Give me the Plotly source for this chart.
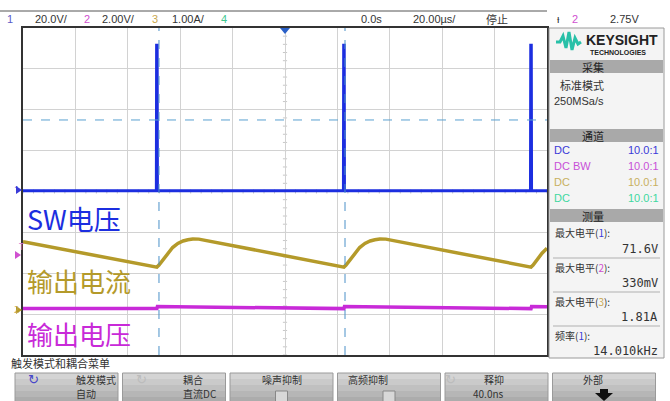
import plotly.graph_objects as go

# ---------------- data ----------------
# time in microseconds, 20 us/div, 10 divisions
TIME_SW = [-100, -49.1, -49.0, -48.8, -48.7, 22.3, 22.4, 22.6, 22.7, 93.7, 93.8, 94.0, 94.1, 100]
SW_VOLT = [0.4, 0.4, 71.6, 71.6, 0.4, 0.4, 71.6, 71.6, 0.4, 0.4, 71.6, 71.6, 0.4, 0.4]   # ch1, 20 V/div

TIME_IOUT = [-100, -48.9, -48.1, -46.4, -44.7, -42.9, -40.9, -38.9, -37.1, -35.2, -32.9,
             22.5, 23.3, 25.0, 26.7, 28.5, 30.5, 32.5, 34.3, 36.2, 38.5,
             93.9, 94.7, 96.4, 98.1, 100]
IOUT_AMP = [1.70, 1.08, 1.13, 1.28, 1.42, 1.56, 1.66, 1.72, 1.75, 1.77, 1.765,
            1.08, 1.13, 1.28, 1.42, 1.56, 1.66, 1.72, 1.75, 1.77, 1.765,
            1.08, 1.13, 1.28, 1.42, 1.54]                    # ch3, 1.00 A/div

TIME_VOUT = [-100, -48.9, -48.7, 22.5, 22.7, 93.9, 94.1, 100]
VOUT_VOLT = [0.08, 0.07, 0.17, 0.07, 0.17, 0.07, 0.17, 0.16]   # ch2, 2.00 V/div

CURSOR_TIMES = [-48.1, 22.9]
CURSOR_LEVEL_DIV = 1.75

SCALES = {"sw": 20.0, "vout": 2.0, "iout": 1.0}
OFFSETS = {"sw": 0.0, "vout": -2.9, "iout": -2.93}

TOP_LEFT = [("1", "#5a5ac8"), ("20.0V/", "#333"), ("2", "#d050d0"), ("2.00V/", "#333"),
            ("3", "#c8a850"), ("1.00A/", "#333"), ("4", "#40c890")]
TOP_LEFT_X = [5, 33, 82, 100, 150, 170, 219]

CHANNEL_ROWS = [("DC", "10.0:1", "#3a3ad8"), ("DC BW", "10.0:1", "#c850d8"),
                ("DC", "10.0:1", "#c8b060"), ("DC", "10.0:1", "#40d8a0")]
MEASURE_ROWS = [("最大电平(", "1", "#3a3ad8", "71.6V"), ("最大电平(", "2", "#d050d0", "330mV"),
                ("最大电平(", "3", "#c8a850", "1.81A"), ("频率(", "1", "#3a3ad8", "14.010kHz")]

BUTTONS = [("触发模式", "自动"), ("耦合", "直流DC"), ("噪声抑制", ""), ("高频抑制", ""),
           ("释抑", "40.0ns"), ("外部", "")]

# ---------------- geometry helpers ----------------
W, H = 670, 401
PL, PR, PT, PB = 23, 547, 28, 355


def fx(px):
    return (px - PL) / (PR - PL)


def fy(py):
    return (PB - py) / (PB - PT)


def to_div(vals, key):
    return [v / SCALES[key] + OFFSETS[key] for v in vals]


CJK = "Noto Sans CJK SC"
fig = go.Figure()

fig.add_trace(go.Scatter(x=TIME_VOUT, y=to_div(VOUT_VOLT, "vout"), mode="lines",
                         line=dict(color="#c82ad8", width=3.5), hoverinfo="skip"))
fig.add_trace(go.Scatter(x=TIME_IOUT, y=to_div(IOUT_AMP, "iout"), mode="lines",
                         line=dict(color="#b49a2a", width=3.5), hoverinfo="skip"))
fig.add_trace(go.Scatter(x=TIME_SW, y=to_div(SW_VOLT, "sw"), mode="lines",
                         line=dict(color="#1c2ee0", width=3), hoverinfo="skip"))

shapes = []
ann = []

# cursors
for t in CURSOR_TIMES:
    shapes.append(dict(type="line", xref="x", yref="y", x0=t, x1=t, y0=-4, y1=4,
                       line=dict(color="#4a90c8", width=1, dash="dash")))
shapes.append(dict(type="line", xref="x", yref="y", x0=-100, x1=100, y0=CURSOR_LEVEL_DIV,
                   y1=CURSOR_LEVEL_DIV, line=dict(color="#5aa0d0", width=1, dash="dash")))

# center-line minor ticks
for i in range(-20, 21):
    yv = i * 0.2
    shapes.append(dict(type="line", xref="x", yref="y", x0=-0.8, x1=0.8, y0=yv, y1=yv,
                       line=dict(color="#c8c8c8", width=1), layer="below"))
for i in range(-25, 26):
    xv = i * 4
    shapes.append(dict(type="line", xref="x", yref="y", x0=xv, x1=xv, y0=-0.05, y1=0.05,
                       line=dict(color="#c8c8c8", width=1), layer="below"))

# top bar
shapes.append(dict(type="line", xref="paper", yref="paper", x0=fx(0), x1=fx(547), y0=fy(11), y1=fy(11),
                   line=dict(color="#555", width=1)))
for (txt, col), px in zip(TOP_LEFT, TOP_LEFT_X):
    ann.append(dict(x=fx(px), y=fy(19), text=txt, xanchor="left",
                    font=dict(color=col, size=11, family="Liberation Sans")))
for txt, px, col in [("0.0s", 371, "#333"), ("20.00µs/", 458, "#333"), ("停止", 510, "#333"),
                     ("ᵼ", 562, "#333"), ("2", 580, "#d050d0"), ("2.75V", 641, "#333")]:
    ann.append(dict(x=fx(px), y=fy(19), text=txt, font=dict(color=col, size=11,
                                                             family=CJK if txt == "停止" else "Liberation Sans")))
# trigger position marker
shapes.append(dict(type="path", xref="paper", yref="paper",
                   path=f"M {fx(280)} {fy(28)} L {fx(290)} {fy(28)} L {fx(285)} {fy(34)} Z",
                   fillcolor="#2a60c8", line=dict(width=0)))

# left markers
ann.append(dict(x=fx(12), y=fy(189), text="1", font=dict(color="#3a3ad8", size=9)))
shapes.append(dict(type="path", xref="paper", yref="paper",
                   path=f"M {fx(16)} {fy(186)} L {fx(22)} {fy(190)} L {fx(16)} {fy(194)} Z",
                   fillcolor="#3a3ad8", line=dict(width=0)))
ann.append(dict(x=fx(17), y=fy(246), text="T", font=dict(color="#d070d0", size=9)))
shapes.append(dict(type="path", xref="paper", yref="paper",
                   path=f"M {fx(15)} {fy(251)} L {fx(21)} {fy(255)} L {fx(15)} {fy(259)} Z",
                   fillcolor="#d050d0", line=dict(width=0)))
ann.append(dict(x=fx(12), y=fy(309), text="2", font=dict(color="#c8a850", size=9)))
shapes.append(dict(type="path", xref="paper", yref="paper",
                   path=f"M {fx(16)} {fy(306)} L {fx(22)} {fy(310)} L {fx(16)} {fy(314)} Z",
                   fillcolor="#b49a2a", line=dict(width=0)))

# big labels
for txt, py, col, sz in [("SW电压", 218, "#1c2ee0", 27), ("输出电流", 280, "#b49a2a", 26),
                         ("输出电压", 333, "#c82ad8", 26)]:
    ann.append(dict(x=fx(25), y=fy(py), text=txt, xanchor="left",
                    font=dict(color=col, size=sz, family=CJK)))

# right panel
shapes.append(dict(type="rect", xref="paper", yref="paper", x0=fx(549), x1=fx(664), y0=fy(358), y1=fy(28),
                   fillcolor="#f4f4f4", line=dict(color="#9a9a9a", width=1)))
wave = [(556, 42), (560, 42), (563, 36), (566, 48), (569, 32), (572, 50), (575, 38), (578, 44), (581, 42)]
path = "M " + " L ".join(f"{fx(a)} {fy(b)}" for a, b in wave)
shapes.append(dict(type="path", xref="paper", yref="paper", path=path, line=dict(color="#28c0a8", width=3)))
ann.append(dict(x=fx(584), y=fy(40), text="<b>KEYSIGHT</b>", xanchor="left",
                font=dict(color="#222", size=14, family="Liberation Sans")))
ann.append(dict(x=fx(588), y=fy(52), text="<b>TECHNOLOGIES</b>", xanchor="left",
                font=dict(color="#222", size=7, family="Liberation Sans")))
for txt, y0, y1 in [("采集", 60, 73), ("通道", 129, 142), ("测量", 209, 222)]:
    shapes.append(dict(type="rect", xref="paper", yref="paper", x0=fx(550), x1=fx(663), y0=fy(y1), y1=fy(y0),
                       fillcolor="#a9a9a9", line=dict(width=0)))
    ann.append(dict(x=fx(606), y=fy((y0 + y1) / 2), text=txt, font=dict(color="#222", size=11, family=CJK)))
ann.append(dict(x=fx(606), y=fy(85), text="标准模式", font=dict(color="#333", size=11, family=CJK)))
ann.append(dict(x=fx(606), y=fy(101), text="250MSa/s", font=dict(color="#333", size=11, family="Liberation Sans")))
for i, (a, b, col) in enumerate(CHANNEL_ROWS):
    py = 150 + i * 16
    ann.append(dict(x=fx(552), y=fy(py), text=a, xanchor="left", font=dict(color=col, size=11, family="Liberation Sans")))
    ann.append(dict(x=fx(661), y=fy(py), text=b, xanchor="right", font=dict(color=col, size=11, family="Liberation Sans")))
for i, (lab, num, col, val) in enumerate(MEASURE_ROWS):
    py = 233 + i * 34
    ann.append(dict(x=fx(553), y=fy(py), xanchor="left",
                    text=f"{lab}<span style='color:{col}'>{num}</span>):",
                    font=dict(color="#333", size=10, family=CJK)))
    ann.append(dict(x=fx(660), y=fy(py + 16), xanchor="right", text=val,
                    font=dict(color="#333", size=12, family="DejaVu Sans Mono")))
    if i < 3:
        shapes.append(dict(type="line", xref="paper", yref="paper", x0=fx(553), x1=fx(660),
                           y0=fy(py + 25), y1=fy(py + 25), line=dict(color="#b0b0b0", width=1)))

# bottom menu
ann.append(dict(x=fx(10), y=fy(362.5), text="触发模式和耦合菜单", xanchor="left", borderpad=0,
                font=dict(color="#333", size=11, family=CJK)))
for i, (l1, l2) in enumerate(BUTTONS):
    x0 = 15 + i * 107.5
    x1 = x0 + 103
    bands = ["#d4d4d4", "#cacaca", "#c0c0c0", "#b6b6b6", "#acacac"]
    for j, c in enumerate(bands):
        shapes.append(dict(type="rect", xref="paper", yref="paper", x0=fx(x0), x1=fx(x1),
                           y0=fy(373 + (j + 1) * 6), y1=fy(373 + j * 6), fillcolor=c, line=dict(width=0)))
    shapes.append(dict(type="rect", xref="paper", yref="paper", x0=fx(x0), x1=fx(x1), y0=fy(403), y1=fy(373),
                       fillcolor="rgba(0,0,0,0)", line=dict(color="#9a9a9a", width=1)))
    cx = (x0 + x1) / 2 + (8 if i in (0, 1, 4) else 0)
    ann.append(dict(x=fx(cx), y=fy(379), text=l1, borderpad=0,
                    font=dict(color="#333", size=10, family=CJK)))
    if l2:
        ann.append(dict(x=fx(cx), y=fy(393.5), text=l2, borderpad=0,
                        font=dict(color="#333", size=10, family=CJK)))
    elif i in (2, 3):
        shapes.append(dict(type="rect", xref="paper", yref="paper", x0=fx(cx - 6), x1=fx(cx + 6),
                           y0=fy(402), y1=fy(391), fillcolor="#d8d8d8", line=dict(color="#888", width=1)))
    else:
        shapes.append(dict(type="path", xref="paper", yref="paper",
                           path=f"M {fx(cx-9)} {fy(393)} L {fx(cx+9)} {fy(393)} L {fx(cx)} {fy(401)} Z",
                           fillcolor="#111", line=dict(width=0)))
        shapes.append(dict(type="rect", xref="paper", yref="paper", x0=fx(cx - 4), x1=fx(cx + 4),
                           y0=fy(393), y1=fy(389), fillcolor="#111", line=dict(width=0)))
    if i in (0, 1, 4):
        col = "#4848c8" if i == 0 else "#bcbcbc"
        ann.append(dict(x=fx(x0 + 12), y=fy(380), text="↻", borderpad=0,
                        font=dict(color=col, size=13, family="DejaVu Sans")))

for a in ann:
    a.setdefault("xref", "paper")
    a.setdefault("yref", "paper")
    a.setdefault("showarrow", False)
    a.setdefault("yanchor", "middle")

fig.update_layout(
    width=W, height=H,
    margin=dict(l=PL, r=W - PR, t=PT, b=H - PB),
    paper_bgcolor="white", plot_bgcolor="white",
    showlegend=False,
    xaxis=dict(range=[-100, 100], dtick=20, tick0=-100, showgrid=True, gridcolor="#d2d2d2", gridwidth=1,
               zeroline=False, showticklabels=False, ticks="", showline=True, linecolor="#333", linewidth=1.5,
               mirror=True, fixedrange=True),
    yaxis=dict(range=[-4, 4], dtick=1, tick0=-4, showgrid=True, gridcolor="#d2d2d2", gridwidth=1,
               zeroline=False, showticklabels=False, ticks="", showline=True, linecolor="#333", linewidth=1.5,
               mirror=True, fixedrange=True),
    shapes=shapes, annotations=ann,
)

fig.write_html("out.html", config={"displayModeBar": False},
               post_script="document.body.style.margin='0';document.body.style.overflow='hidden';")
